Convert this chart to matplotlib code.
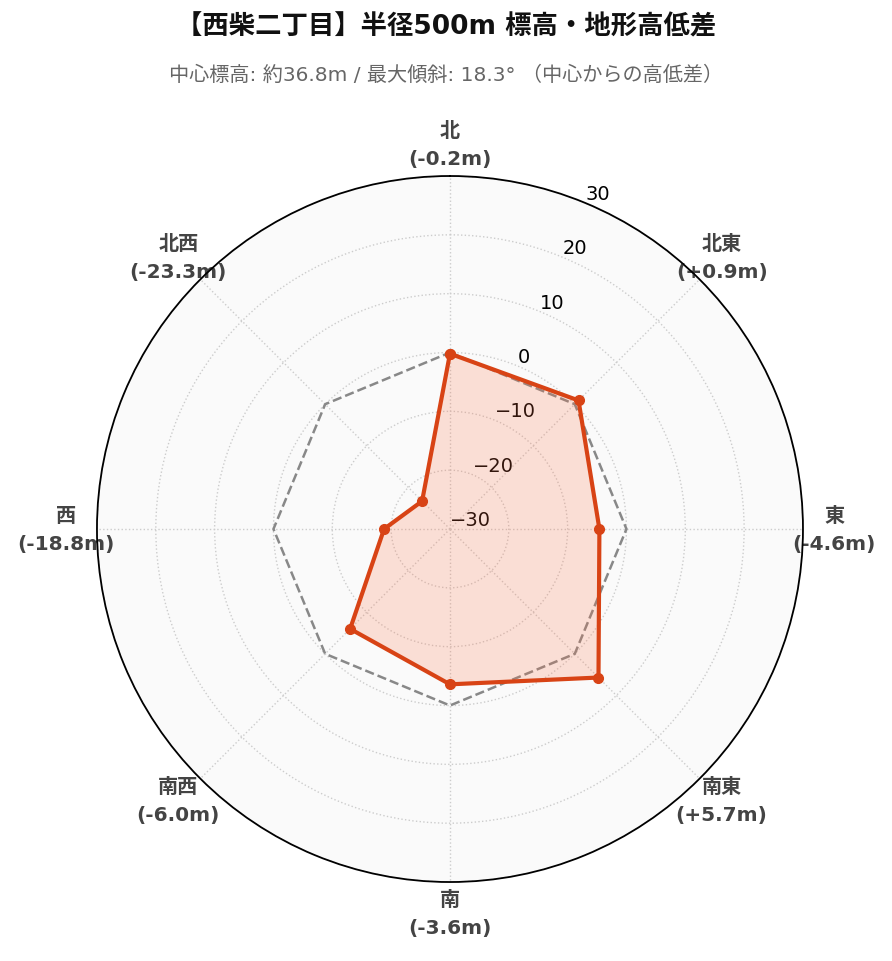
import numpy as np
import matplotlib
matplotlib.use("Agg")
import matplotlib.pyplot as plt

plt.rcParams['font.family'] = ['DejaVu Sans', 'Noto Sans CJK JP']

# --- datos ---
direcciones = ["北", "北東", "東", "南東", "南", "南西", "西", "北西"]
diferencias = [-0.2, 0.9, -4.6, 5.7, -3.6, -6.0, -18.8, -23.3]
r_ticks = [-30, -20, -10, 0, 10, 20, 30]
titulo = "【西柴二丁目】半径500m 標高・地形高低差"
subtitulo = "中心標高: 約36.8m / 最大傾斜: 18.3° （中心からの高低差）"

color_linea = "#D84315"
color_relleno = "#FF7043"

n = len(direcciones)
angulos = np.linspace(0, 2 * np.pi, n, endpoint=False)
ang_c = np.concatenate([angulos, angulos[:1]])
vals_c = np.concatenate([diferencias, diferencias[:1]])
cero_c = np.zeros_like(ang_c)

fig = plt.figure(figsize=(8.92, 9.62), dpi=100)
ax = fig.add_axes([0.1087, 0.0821, 0.7915, 0.7339], projection="polar")
ax.set_theta_zero_location("N")
ax.set_theta_direction(-1)
ax.set_facecolor("#fafafa")

ax.set_ylim(-30, 30)
ax.set_yticks(r_ticks)
ax.set_yticklabels([f"{t}".replace("-", "\u2212") for t in r_ticks], fontsize=14)
ax.set_rlabel_position(22.5)

# linea de referencia (0 m)
ax.plot(ang_c, cero_c, ls="--", color="#888888", lw=1.8, zorder=2)

# perfil de alturas
ax.fill(ang_c, vals_c, color=color_relleno, alpha=0.2, zorder=3, lw=0)
ax.plot(ang_c, vals_c, color=color_linea, lw=3, marker="o", ms=7, zorder=4)

etiquetas = [f"{d}\n({v:+.1f}m)" if v > 0 else f"{d}\n({v:.1f}m)"
             for d, v in zip(direcciones, diferencias)]
ax.set_xticks(angulos)
ax.set_xticklabels(etiquetas, fontsize=14.5, fontweight="bold", color="#444444",
                   linespacing=1.6)
ax.tick_params(axis="x", pad=12)

ax.grid(True, color="#cccccc", ls=":", lw=1)
ax.spines["polar"].set_color("black")
ax.spines["polar"].set_linewidth(1.3)

fig.text(0.5, 0.971, titulo, ha="center", va="center", fontsize=19,
         fontweight="bold", color="#111111")
fig.text(0.5, 0.922, subtitulo, ha="center", va="center", fontsize=14.5,
         color="#666666")

fig.savefig("out.png", dpi=100, facecolor="white")
